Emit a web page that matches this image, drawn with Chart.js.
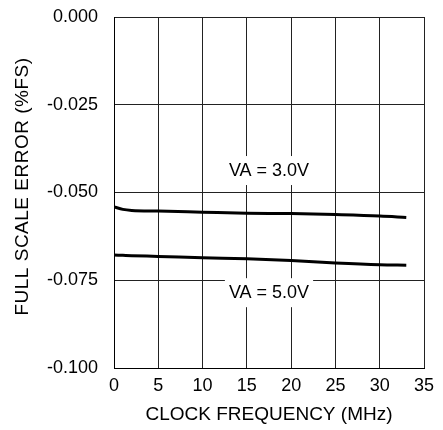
<!DOCTYPE html>
<html>
<head>
<meta charset="utf-8">
<title>Full Scale Error vs Clock Frequency</title>
<script src="https://cdn.jsdelivr.net/npm/chart.js@4/dist/chart.umd.min.js"></script>
<style>
  html, body { margin: 0; padding: 0; background: #fff; }
  canvas { display: block; }
</style>
</head>
<body>
<canvas id="fse" width="443" height="430"></canvas>
<script>
// Full scale error (%FS) against clock frequency, two supply voltages

const clockMHz = [0, 1, 2, 5, 10, 15, 20, 25, 30, 33]
const errorVA3 = [-0.0541, -0.0548, -0.0551, -0.0553, -0.0556, -0.0559, -0.0560, -0.0563, -0.0567, -0.0571]
const errorVA5 = [-0.0678, -0.0679, -0.0680, -0.0682, -0.0686, -0.0689, -0.0694, -0.0701, -0.0706, -0.0707]

const xTicks = [0, 5, 10, 15, 20, 25, 30, 35]
const yTicks = [-0.100, -0.075, -0.050, -0.025, 0.000]

const curveLabels = ['VA = 3.0V', 'VA = 5.0V']
const curveLabelAt = [[17.5, -0.0436], [17.5, -0.0784]]

const FONT = '"Liberation Sans", Arial, Helvetica, sans-serif'
const INK = '#000'

function toPoints(xs, ys) {
  return xs.map((x, i) => ({ x, y: ys[i] }))
}

// White-backed text labels sitting on the grid, plus the rotated y title
const labelPlugin = {
  id: 'curveLabels',
  afterDraw(chart) {
    const { ctx, scales: { x, y }, chartArea } = chart
    ctx.save()
    ctx.font = '18px ' + FONT
    ctx.textAlign = 'center'
    ctx.textBaseline = 'middle'
    curveLabels.forEach((text, i) => {
      const px = x.getPixelForValue(curveLabelAt[i][0])
      const py = y.getPixelForValue(curveLabelAt[i][1])
      const w = ctx.measureText(text).width
      ctx.fillStyle = '#fff'
      ctx.fillRect(px - w / 2 - 4, py - 14, w + 8, 29)
      ctx.fillStyle = INK
      ctx.fillText(text, px, py + 1)
    })

    ctx.font = '19px ' + FONT
    ctx.letterSpacing = '0.5px'
    ctx.translate(23, (chartArea.top + chartArea.bottom) / 2 - 6)
    ctx.rotate(-Math.PI / 2)
    ctx.fillText('FULL SCALE ERROR (%FS)', 0, 0)
    ctx.restore()
  }
}

new Chart(document.getElementById('fse'), {
  type: 'line',
  data: {
    datasets: [
      { label: curveLabels[0], data: toPoints(clockMHz, errorVA3) },
      { label: curveLabels[1], data: toPoints(clockMHz, errorVA5) }
    ].map(ds => Object.assign({
      borderColor: INK,
      borderWidth: 3,
      pointRadius: 0,
      fill: false,
      cubicInterpolationMode: 'monotone'
    }, ds))
  },
  options: {
    responsive: false,
    animation: false,
    layout: { padding: { top: 17, right: 19, left: 0, bottom: 0 } },
    plugins: {
      legend: { display: false },
      tooltip: { enabled: false }
    },
    scales: {
      x: {
        type: 'linear',
        min: 0,
        max: 35,
        afterBuildTicks: s => { s.ticks = xTicks.map(v => ({ value: v })) },
        afterFit: s => { s.height = 62 },
        grid: { color: '#222', lineWidth: 1, drawTicks: false },
        border: { color: INK, width: 1 },
        ticks: { color: INK, font: { family: FONT, size: 18 }, padding: 7, maxRotation: 0 },
        title: {
          display: true,
          text: 'CLOCK FREQUENCY (MHz)',
          color: INK,
          font: { family: FONT, size: 19 },
          padding: { top: 0, bottom: 4 }
        }
      },
      y: {
        min: -0.1,
        max: 0,
        afterBuildTicks: s => { s.ticks = yTicks.map(v => ({ value: v })) },
        // the tick padding pushes the plot down otherwise; the layout padding covers the top label
        afterFit: s => { s.width = 114; s.paddingTop = 0; s.paddingBottom = 0 },
        grid: { color: '#222', lineWidth: 1, drawTicks: false },
        border: { color: INK, width: 1 },
        ticks: {
          color: INK,
          font: { family: FONT, size: 18 },
          padding: 16,
          callback: v => v.toFixed(3)
        }
      }
    }
  },
  plugins: [labelPlugin]
})
</script>
</body>
</html>
